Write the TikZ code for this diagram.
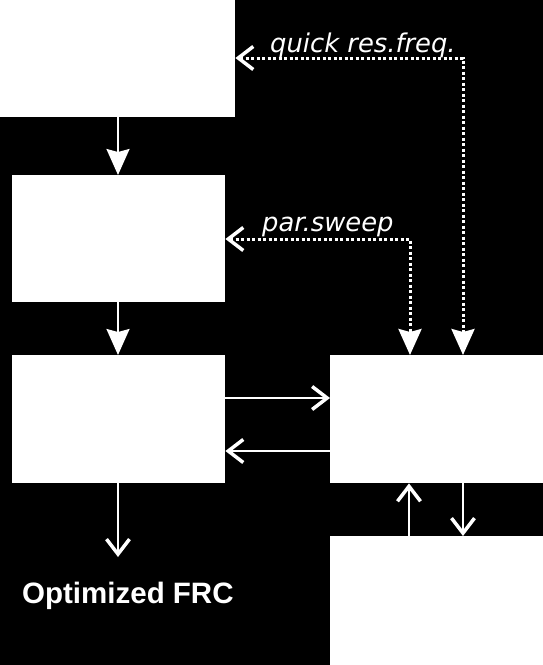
\documentclass[tikz,border=0pt]{standalone}
\usepackage{fontspec}
\usetikzlibrary{arrows.meta}
\newfontfamily\labelfont{DejaVu Sans}
\newfontfamily\resultfont{Liberation Sans}

\begin{document}
\begin{tikzpicture}[x=1pt, y=-1pt,
    box/.style={fill=white, draw=none, inner sep=0pt, anchor=north west},
    flow/.style={white, line width=2pt, -{Stealth[length=26pt, width=23pt, inset=3pt]}},
    link/.style={white, line width=2pt, -{Straight Barb[length=15pt, width=23pt, line width=3.5pt]}},
    loop/.style={white, line width=3pt, dash pattern=on 3pt off 2.5pt,
        {Straight Barb[length=15pt, width=23pt, line width=3.5pt]}-{Stealth[length=26pt, width=23pt, inset=3pt]}},
    note/.style={white, inner sep=0pt, anchor=base west, font=\labelfont\itshape\fontsize{25.8}{30}\selectfont}]
                % Background
                \fill[black] (0,0) rectangle (543,665);
                \useasboundingbox (0,0) rectangle (543,665);
                % Boxes
                \node[box, minimum width=235pt, minimum height=117pt] (b1) at (0,0) {};
                \node[box, minimum width=213pt, minimum height=127pt] (b2) at (12,175) {};
                \node[box, minimum width=213pt, minimum height=128pt] (b3) at (12,355) {};
                \node[box, minimum width=213pt, minimum height=128pt] (b4) at (330,355) {};
                \node[box, minimum width=213pt, minimum height=129pt] (b5) at (330,536) {};
                \coordinate (out) at (118,557);

                % Main chain
                \draw[flow] (b1.south -| out) -- (b2.north -| out);
                \draw[flow] (b2.south -| out) -- (b3.north -| out);
                \draw[link] (b3.south -| out) -- (out);
                \node[white, inner sep=0pt, anchor=base west, font=\resultfont\bfseries\fontsize{29.5}{34}\selectfont] (res) at (22,603) {Optimized FRC};

                % Exchange with the side boxes
                \draw[link] (b3.east |- 0,398) -- (b4.west |- 0,398);
                \draw[link] (b4.west |- 0,451) -- (b3.east |- 0,451);
                \draw[link] (b4.south -| 463,0) -- (b5.north -| 463,0);
                \draw[link] (b5.north -| 409,0) -- (b4.south -| 409,0);

                % Feedback loops
                \draw[loop] (b1.east |- 0,58) -| (b4.north -| 463,0);
                \draw[loop] (b2.east |- 0,239) -| (b4.north -| 410,0);
                \node[note] (quick) at (270,52) {quick res.freq.};
                \node[note] (sweep) at (262,231) {par.sweep};
            \end{tikzpicture}
\end{document}
